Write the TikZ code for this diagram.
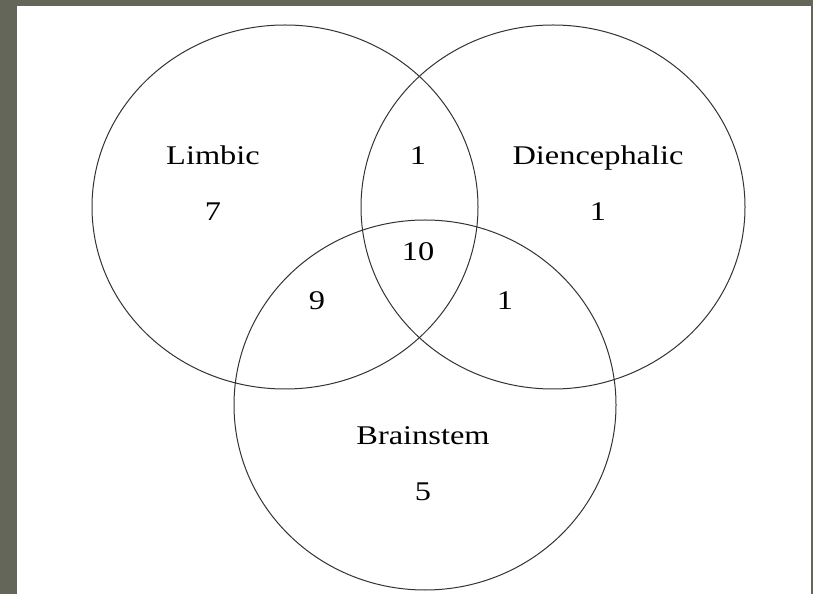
\documentclass[tikz,border=0pt]{standalone}
\usepackage{fontspec}
\usepackage{graphicx}
\setmainfont{Liberation Serif}
\newfontfamily\widefont[FakeStretch=1.2]{Liberation Serif}
\definecolor{frame}{HTML}{64665A}
\begin{document}
\begin{tikzpicture}[x=1pt,y=1pt,
  setcircle/.style={draw=black!80, line width=1pt},
  lbl/.style={font=\widefont\fontsize{27}{30}\selectfont, inner sep=0pt, anchor=base}]
\useasboundingbox (0,0) rectangle (813,594);
\fill[frame] (0,0) rectangle (813,594);
\fill[white] (17,0) rectangle (811,588);
\draw[setcircle] (285,387) ellipse [x radius=193, y radius=182];
\draw[setcircle] (553,387) ellipse [x radius=192, y radius=182];
\draw[setcircle] (425,189) ellipse [x radius=191, y radius=185];
\node[lbl] (limbic) at (213,429) {Limbic};
\node[lbl] (limbicn) at (213,373) {7};
\node[lbl] (ld) at (418,429) {1};
\node[lbl] (dien) at (598,429) {Diencephalic};
\node[lbl] (dienn) at (598,373) {1};
\node[lbl] (all) at (418,333) {10};
\node[lbl] (lb) at (317,284) {9};
\node[lbl] (db) at (505,284) {1};
\node[lbl] (brain) at (423,149) {Brainstem};
\node[lbl] (brainn) at (423,93) {5};
\end{tikzpicture}
\end{document}
